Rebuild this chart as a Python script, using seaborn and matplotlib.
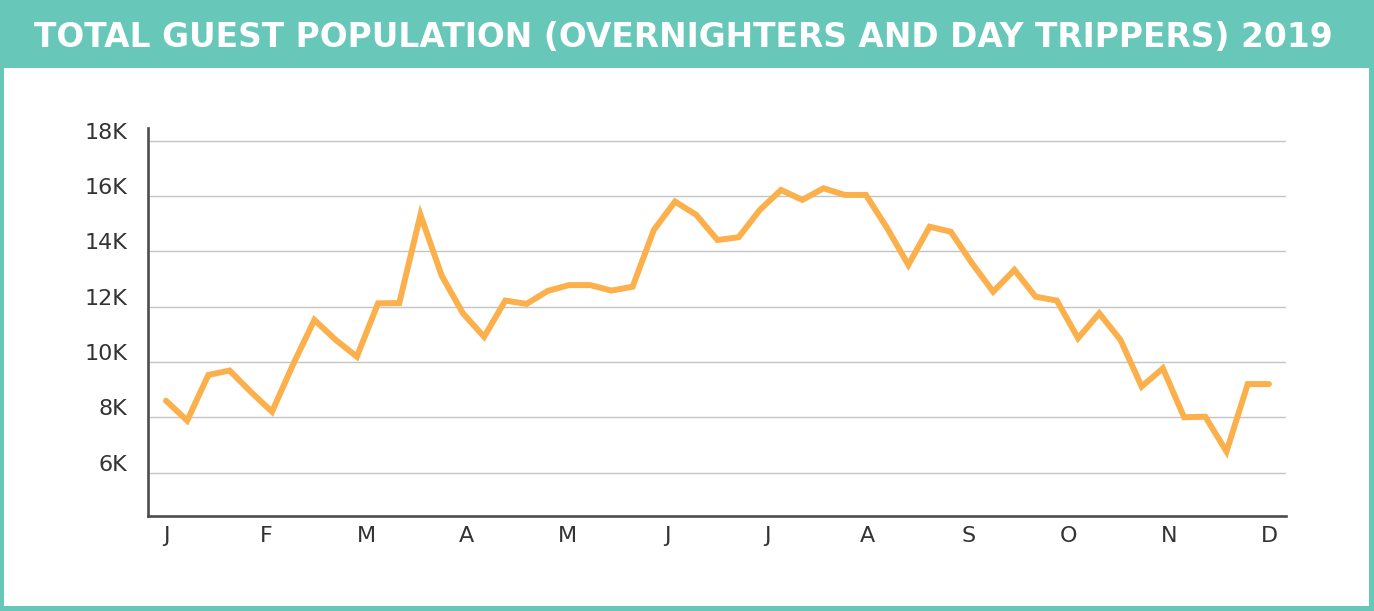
import numpy as np
import matplotlib
matplotlib.use("Agg")
import matplotlib.pyplot as plt
from matplotlib.patches import Rectangle
from matplotlib.transforms import ScaledTranslation
import seaborn as sns

# weekly guest counts, 2019 (in guests)
weeks = list(range(53))
guests = [8600, 7880, 9530, 9690, 8920, 8200, 9920, 11520, 10800, 10190,
          12120, 12130, 15320, 13120, 11760, 10910, 12220, 12100, 12570, 12780,
          12780, 12580, 12720, 14770, 15800, 15320, 14410, 14510, 15500, 16220,
          15860, 16280, 16040, 16040, 14840, 13510, 14890, 14710, 13570, 12540,
          13330, 12360, 12220, 10860, 11760, 10800, 9110, 9770, 8000, 8020,
          6760, 9200, 9200]
month_labels = ["J", "F", "M", "A", "M", "J", "J", "A", "S", "O", "N", "D"]
y_ticks = [6000, 8000, 10000, 12000, 14000, 16000, 18000]
y_labels = ["6K", "8K", "10K", "12K", "14K", "16K", "18K"]
title = "TOTAL GUEST POPULATION (OVERNIGHTERS AND DAY TRIPPERS) 2019"

TEAL = "#67C7B9"
ORANGE = "#FBB04C"
DARK = "#4D4D4D"

sns.set_style("white")
plt.rcParams["font.family"] = ["DejaVu Sans"]

W, H = 1374, 611
fig = plt.figure(figsize=(W / 100, H / 100), dpi=100, facecolor=TEAL)

# white card below the teal header
card = Rectangle((4 / W, 5.3 / H), 1365 / W, (611 - 5.3 - 68.3) / H,
                 transform=fig.transFigure, facecolor="white",
                 edgecolor="none", zorder=-5)
fig.patches.append(card)

ax = fig.add_axes([147.7 / W, (H - 516) / H, 1138 / W, 388 / H])
ax.set_facecolor("none")

sns.lineplot(x=weeks, y=guests, color=ORANGE, linewidth=4.3, ax=ax)
line = ax.get_lines()[0]
line.set_solid_capstyle("round")
line.set_solid_joinstyle("miter")

ax.set_xlim(-0.86, 52.79)
ax.set_ylim(4430, 18460)
ax.set_xticks(np.linspace(0, 52, 12), labels=month_labels)
ax.set_yticks(y_ticks, labels=y_labels)
ax.set_xlabel("")
ax.set_ylabel("")

ax.set_axisbelow(True)
ax.yaxis.grid(True, color="#C4C4C4", linewidth=1.0)
ax.xaxis.grid(False)

for side in ["top", "right"]:
    ax.spines[side].set_visible(False)
for side in ["left", "bottom"]:
    ax.spines[side].set_color(DARK)
    ax.spines[side].set_linewidth(1.9)

ax.tick_params(axis="x", direction="in", length=11.5, width=1.8, color=DARK,
               pad=7, labelsize=16, labelcolor="#333333")
ax.tick_params(axis="y", length=0, pad=14.4, labelsize=16, labelcolor="#333333")

# y labels sit just above their gridline
lift = ScaledTranslation(0, 0.02, fig.dpi_scale_trans)
for lab in ax.get_yticklabels():
    lab.set_verticalalignment("baseline")
    lab.set_transform(lab.get_transform() + lift)

# title in the header band, stretched to the reference width
t = fig.text(34 / W, 1 - 46.7 / H, title, ha="left", va="baseline",
             fontsize=22, fontweight="bold", color="white")
fig.canvas.draw()
w = t.get_window_extent().width
t.set_fontsize(22 * 1293 / w)

fig.savefig("out.png", dpi=100, facecolor=TEAL)
